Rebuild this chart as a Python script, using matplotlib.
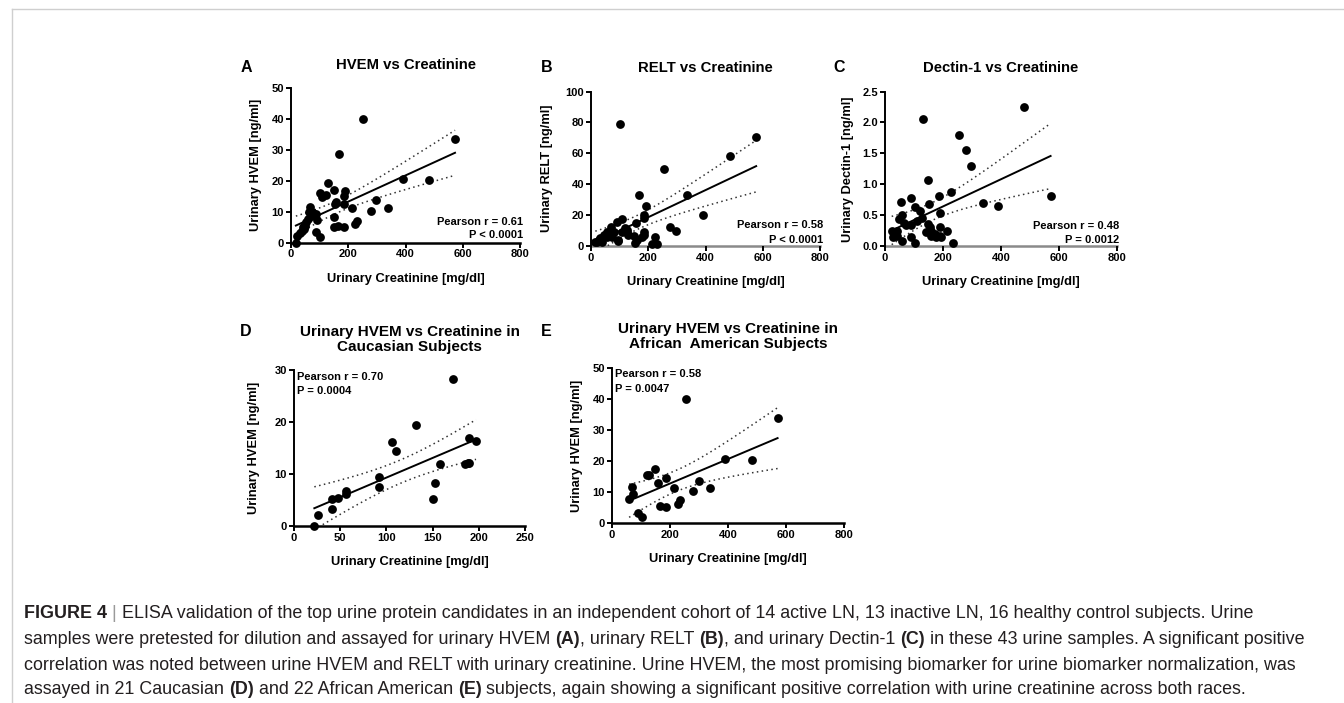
import numpy as np
import matplotlib.pyplot as plt
from matplotlib.lines import Line2D
from matplotlib.font_manager import FontProperties

W, H = 1344, 703
plt.rcParams['font.family'] = 'Liberation Sans'
plt.rcParams['font.weight'] = 'bold'

# Panel A: HVEM vs creatinine (all 43 samples)
a_creat = [253, 573, 169, 390, 482, 129, 149, 190, 103, 123, 109, 186, 157, 154, 298,
           186, 213, 279, 338, 66, 86, 91, 149, 230, 224, 149, 163, 186, 89, 100,
           22, 17, 37, 43, 54, 60, 78, 70, 50, 30, 62, 45, 75]
a_hvem = [40.0, 33.6, 28.5, 20.6, 20.2, 19.2, 17.0, 16.8, 15.9, 15.4, 14.6, 15.2, 13.0, 12.3, 13.6,
          12.5, 11.2, 10.3, 11.2, 11.6, 9.2, 7.3, 8.1, 7.1, 6.0, 5.1, 5.4, 4.9, 3.3, 1.8,
          2.0, 0.0, 3.8, 5.1, 6.5, 7.6, 9.5, 8.5, 5.5, 3.0, 9.9, 4.5, 10.0]

# Panel B: RELT vs creatinine
b_creat = [102, 577, 484, 255, 169, 337, 193, 390, 184, 184, 108, 91, 158, 71, 120,
           277, 297, 126, 184, 184, 56, 44, 131, 149, 224, 160, 94, 27, 15, 96,
           155, 213, 230, 38, 73, 21, 126, 178, 56, 79, 108, 33, 62]
b_relt = [79.1, 70.4, 58.0, 49.8, 32.6, 32.6, 25.9, 20.0, 20.0, 17.8, 17.2, 15.2, 15.0, 12.4, 11.3,
          12.4, 9.6, 8.7, 8.7, 7.0, 8.7, 7.0, 7.0, 6.3, 5.4, 3.7, 3.7, 3.7, 2.2, 3.0,
          1.5, 0.9, 1.1, 2.6, 5.9, 2.6, 10.2, 5.9, 5.9, 9.1, 9.1, 4.8, 7.5]

# Panel C: Dectin-1 vs creatinine
c_creat = [481, 131, 254, 279, 298, 149, 226, 186, 571, 91, 55, 151, 337, 389, 103,
           120, 57, 189, 129, 49, 109, 74, 91, 149, 154, 189, 160, 23, 40, 215,
           171, 160, 29, 40, 189, 177, 91, 59, 105, 234, 194, 66, 140]
c_dectin = [2.245, 2.06, 1.80, 1.55, 1.30, 1.06, 0.88, 0.81, 0.81, 0.77, 0.72, 0.68, 0.70, 0.64, 0.63,
            0.57, 0.50, 0.54, 0.46, 0.43, 0.41, 0.34, 0.34, 0.36, 0.31, 0.31, 0.25, 0.24, 0.25, 0.25,
            0.20, 0.16, 0.14, 0.16, 0.16, 0.14, 0.14, 0.08, 0.05, 0.05, 0.14, 0.38, 0.22]

# Panel D: Caucasian subjects
d_creat = [172, 132, 106, 110, 189, 197, 158, 185, 188, 189, 92, 92, 153, 150, 56,
           56, 48, 41, 41, 26, 22]
d_hvem = [28.3, 19.4, 16.2, 14.4, 16.9, 16.3, 11.9, 12.0, 12.1, 12.1, 9.4, 7.5, 8.2, 5.1, 6.7,
          6.1, 5.3, 5.1, 3.2, 2.2, 0.0]

# Panel E: African American subjects
e_creat = [254, 571, 390, 482, 148, 120, 129, 186, 160, 300, 68, 215, 338, 74, 278,
           59, 234, 226, 166, 186, 91, 102]
e_hvem = [40.0, 33.8, 20.6, 20.2, 17.3, 15.5, 15.4, 14.5, 13.0, 13.5, 11.7, 11.3, 11.3, 9.5, 10.4,
          7.9, 7.4, 6.2, 5.6, 5.1, 3.2, 1.8]

fig = plt.figure(figsize=(W / 100, H / 100), dpi=100)


def fx(px):
    return px / W


def fy(py):
    return 1 - py / H


def panel(left, top, right, bottom, x, y, xmax, xticks, ymax, yticks, t_crit,
          title, letter, ylabel, ylab_off, stats, stats_pos, ha, yfmt=None, xcol='k'):
    ax = fig.add_axes([fx(left), fy(bottom), fx(right - left), (bottom - top) / H])
    ax.scatter(x, y, s=40, color='k', zorder=3, linewidths=0, clip_on=False)
    x = np.asarray(x, float)
    y = np.asarray(y, float)
    # linear fit with 95% confidence band
    slope, icpt = np.polyfit(x, y, 1)
    xs = np.linspace(x.min(), x.max(), 100)
    yhat = icpt + slope * xs
    n = len(x)
    s = np.sqrt(np.sum((y - icpt - slope * x) ** 2) / (n - 2))
    sxx = np.sum((x - x.mean()) ** 2)
    half = t_crit * s * np.sqrt(1 / n + (xs - x.mean()) ** 2 / sxx)
    ax.plot(xs, yhat, color='k', lw=1.4)
    ax.plot(xs, yhat + half, color='#333333', lw=1.1, ls=(0, (1, 2.2)))
    ax.plot(xs, yhat - half, color='#333333', lw=1.1, ls=(0, (1, 2.2)))
    ax.set_xlim(0, xmax)
    ax.set_ylim(0, ymax)
    ax.set_xticks(xticks)
    ax.set_yticks(yticks)
    if yfmt:
        ax.set_yticklabels([yfmt % v for v in yticks])
    ax.spines[['top', 'right']].set_visible(False)
    ax.spines['left'].set_linewidth(1.4)
    ax.spines['bottom'].set_linewidth(1.8)
    ax.spines['bottom'].set_color(xcol)
    ax.spines['bottom'].set_zorder(1)
    ax.tick_params(length=3.5, width=1.4, labelsize=8, pad=1.5)
    ax.patch.set_alpha(0)
    w = right - left
    h = bottom - top
    ax.set_xlabel('Urinary Creatinine [mg/dl]', fontsize=9.3, fontweight='bold')
    ax.xaxis.set_label_coords(0.5, -30 / h)
    ax.set_ylabel(ylabel, fontsize=9.3, fontweight='bold')
    ax.yaxis.set_label_coords(-ylab_off / w, 0.5)
    # title and panel letter
    cx = (left + right) / 2
    if isinstance(title, tuple):
        fig.text(fx(cx), fy(title[1]), title[0], ha='center', va='center',
                 fontsize=11, fontweight='bold', linespacing=1.05)
    else:
        fig.text(fx(cx), fy(top - 23), title, ha='center', va='center',
                 fontsize=10.7, fontweight='bold')
    fig.text(fx(letter[1]), fy(letter[2]), letter[0], ha='center', va='center',
             fontsize=11.5, fontweight='bold')
    for txt, (px, py) in zip(stats, stats_pos):
        fig.text(fx(px), fy(py), txt, ha=ha, va='center', fontsize=8, fontweight='bold')
    return ax


panel(291, 88, 520, 242.5, a_creat, a_hvem, 800, [0, 200, 400, 600, 800], 50,
      [0, 10, 20, 30, 40, 50], 2.0195, 'HVEM vs Creatinine', ('A', 246, 67),
      'Urinary HVEM [ng/ml]', 29, ['Pearson r = 0.61', 'P < 0.0001'],
      [(523, 221.7), (523, 235)], 'right')
panel(591, 91.5, 820, 245.7, b_creat, b_relt, 800, [0, 200, 400, 600, 800], 100,
      [0, 20, 40, 60, 80, 100], 2.0195, 'RELT vs Creatinine', ('B', 547, 67),
      'Urinary RELT [ng/ml]', 38, ['Pearson r = 0.58', 'P < 0.0001'],
      [(823, 225.3), (823, 239.7)], 'right', xcol='#8a8a8a')
panel(885, 91.5, 1117, 246, c_creat, c_dectin, 800, [0, 200, 400, 600, 800], 2.5,
      [0, 0.5, 1.0, 1.5, 2.0, 2.5], 2.0195, 'Dectin-1 vs Creatinine', ('C', 839, 67),
      'Urinary Dectin-1 [ng/ml]', 31, ['Pearson r = 0.48', 'P = 0.0012'],
      [(1119, 225.7), (1119, 240)], 'right', yfmt='%.1f', xcol='#8a8a8a')
panel(294, 370, 525, 526, d_creat, d_hvem, 250, [0, 50, 100, 150, 200, 250], 30,
      [0, 10, 20, 30], 2.093, ('Urinary HVEM vs Creatinine in\nCaucasian Subjects', 339.5),
      ('D', 246, 332), 'Urinary HVEM [ng/ml]', 34, ['Pearson r = 0.70', 'P = 0.0004'],
      [(297, 376.7), (297, 391)], 'left')
panel(612, 368, 844, 523, e_creat, e_hvem, 800, [0, 200, 400, 600, 800], 50,
      [0, 10, 20, 30, 40, 50], 2.086, ('Urinary HVEM vs Creatinine in\nAfrican  American Subjects', 336.5),
      ('E', 546, 332), 'Urinary HVEM [ng/ml]', 29, ['Pearson r = 0.58', 'P = 0.0047'],
      [(615, 374), (615, 388.7)], 'left')

# light frame around the figure block
fig.add_artist(Line2D([fx(12), 1], [fy(9), fy(9)], color='#cfcfcf', lw=1))
fig.add_artist(Line2D([fx(12), fx(12)], [fy(9), 0], color='#cfcfcf', lw=1))

# caption with bold fragments
caption = [
    [('FIGURE 4', 'bold', '#231f20'), (' | ', 'normal', '#9a9a9a'),
     ('ELISA validation of the top urine protein candidates in an independent cohort of 14 active LN, '
      '13 inactive LN, 16 healthy control subjects. Urine', 'normal', '#231f20')],
    [('samples were pretested for dilution and assayed for urinary HVEM ', 'normal', '#231f20'),
     ('(A)', 'bold', '#231f20'), (', urinary RELT ', 'normal', '#231f20'), ('(B)', 'bold', '#231f20'),
     (', and urinary Dectin-1 ', 'normal', '#231f20'), ('(C)', 'bold', '#231f20'),
     (' in these 43 urine samples. A significant positive', 'normal', '#231f20')],
    [('correlation was noted between urine HVEM and RELT with urinary creatinine. Urine HVEM, the most '
      'promising biomarker for urine biomarker normalization, was', 'normal', '#231f20')],
    [('assayed in 21 Caucasian ', 'normal', '#231f20'), ('(D)', 'bold', '#231f20'),
     (' and 22 African American ', 'normal', '#231f20'), ('(E)', 'bold', '#231f20'),
     (' subjects, again showing a significant positive correlation with urine creatinine across both races.',
      'normal', '#231f20')],
]
cap_y = [613, 639, 665, 690]

renderer = fig.canvas.get_renderer()


def seg_width(txt, weight, size):
    prop = FontProperties(family='Liberation Sans', weight=weight, size=size)
    w1, _, _ = renderer.get_text_width_height_descent('|' + txt + '|', prop, ismath=False)
    w0, _, _ = renderer.get_text_width_height_descent('||', prop, ismath=False)
    return w1 - w0


# scale caption font so the second line spans its width in the reference
ref = sum(seg_width(t, wt, 10) for t, wt, _ in caption[1])
cap_size = 10 * 1285 / ref

for parts, yy in zip(caption, cap_y):
    x = 24
    for txt, wt, col in parts:
        fig.text(fx(x), fy(yy), txt, ha='left', va='center', fontsize=cap_size,
                 fontweight=wt, color=col, family='Liberation Sans')
        x += seg_width(txt, wt, cap_size)

fig.savefig('out.png', dpi=100)
